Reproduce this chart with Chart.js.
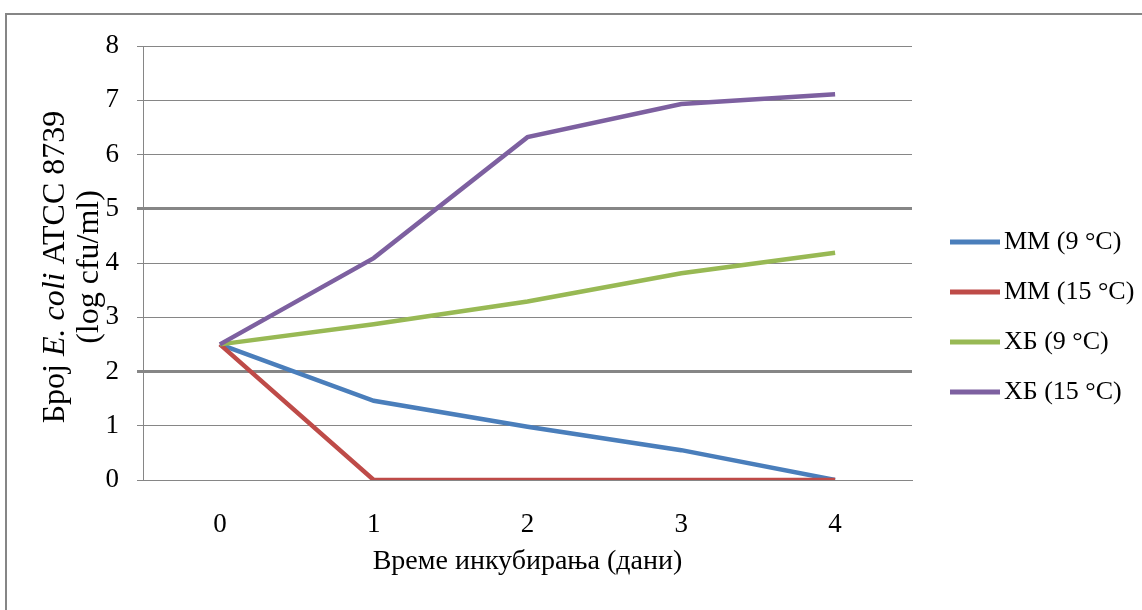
<!DOCTYPE html>
<html>
<head>
<meta charset="utf-8">
<script src="https://cdn.jsdelivr.net/npm/chart.js@4.4.1/dist/chart.umd.min.js"></script>
<style>
  html, body { margin: 0; padding: 0; background: #fff; }
  #wrap { width: 1142px; height: 610px; position: relative; }
</style>
</head>
<body>
<div id="wrap"><canvas id="c" width="1142" height="610"></canvas></div>
<script>
// Days of incubation
const days = ['0', '1', '2', '3', '4'];

// log cfu/ml per series
const mm9  = [2.5, 1.46, 0.98, 0.55, 0.0];
const mm15 = [2.5, 0.0, 0.0, 0.0, 0.0];
const hb9  = [2.5, 2.87, 3.29, 3.81, 4.19];
const hb15 = [2.5, 4.09, 6.32, 6.93, 7.11];

const seriesNames = ['ММ (9 °C)', 'ММ (15 °C)', 'ХБ (9 °C)', 'ХБ (15 °C)'];
const seriesColors = ['#4A7EBB', '#BE4B48', '#98B954', '#7D60A0'];

const yTitleParts = [
  { text: 'Број ', italic: false },
  { text: 'E. coli', italic: true },
  { text: ' ATCC 8739', italic: false }
];
const yTitle2 = '(log cfu/ml)';
const xTitle = 'Време инкубирања (дани)';

const SERIF = '"Liberation Serif", "Times New Roman", serif';
const GRID = '#868686';

const frameAndLabels = {
  id: 'frameAndLabels',
  beforeDraw(chart) {
    const ctx = chart.ctx;
    ctx.save();
    ctx.fillStyle = '#fff';
    ctx.fillRect(0, 0, chart.width, chart.height);
    ctx.strokeStyle = GRID;
    ctx.lineWidth = 2;
    ctx.beginPath();
    ctx.moveTo(6, chart.height);
    ctx.lineTo(6, 14);
    ctx.lineTo(chart.width, 14);
    ctx.stroke();
    ctx.restore();
  },
  afterDraw(chart) {
    const ctx = chart.ctx;
    const area = chart.chartArea;
    ctx.save();
    ctx.fillStyle = '#000';
    ctx.textBaseline = 'middle';

    // x-axis title
    ctx.font = '28px ' + SERIF;
    ctx.textAlign = 'center';
    ctx.fillText(xTitle, (area.left + area.right) / 2, 562);

    // y-axis title, two rotated lines
    const cy = 267;
    ctx.save();
    ctx.translate(56, cy);
    ctx.rotate(-Math.PI / 2);
    ctx.textAlign = 'left';
    let total = 0;
    const widths = yTitleParts.map(p => {
      ctx.font = (p.italic ? 'italic ' : '') + '32px ' + SERIF;
      const w = ctx.measureText(p.text).width;
      total += w;
      return w;
    });
    let x = -total / 2;
    yTitleParts.forEach((p, i) => {
      ctx.font = (p.italic ? 'italic ' : '') + '32px ' + SERIF;
      ctx.fillText(p.text, x, 0);
      x += widths[i];
    });
    ctx.restore();

    ctx.save();
    ctx.translate(90, cy);
    ctx.rotate(-Math.PI / 2);
    ctx.textAlign = 'center';
    ctx.font = '32px ' + SERIF;
    ctx.fillText(yTitle2, 0, 0);
    ctx.restore();

    // legend
    const rowY = [242, 292, 342, 392];
    chart.data.datasets.forEach((ds, i) => {
      const y = rowY[i];
      ctx.strokeStyle = ds.borderColor;
      ctx.lineWidth = 5;
      ctx.beginPath();
      ctx.moveTo(950, y);
      ctx.lineTo(1000, y);
      ctx.stroke();
      ctx.fillStyle = '#000';
      ctx.font = '26px ' + SERIF;
      ctx.textAlign = 'left';
      ctx.fillText(ds.label, 1004, y);
    });
    ctx.restore();
  }
};

const seriesData = [mm9, mm15, hb9, hb15];

new Chart(document.getElementById('c'), {
  type: 'line',
  data: {
    labels: days,
    datasets: seriesData.map((d, i) => ({
      label: seriesNames[i],
      data: d,
      borderColor: seriesColors[i],
      backgroundColor: seriesColors[i],
      borderWidth: 4.5,
      pointRadius: 0,
      tension: 0,
      order: 3 - i
    }))
  },
  options: {
    responsive: false,
    animation: false,
    events: [],
    layout: { padding: { left: 0, right: 230, top: 46, bottom: 0 } },
    plugins: {
      legend: { display: false },
      tooltip: { enabled: false }
    },
    scales: {
      x: {
        offset: true,
        grid: { display: false },
        border: { display: true, color: GRID, width: 1 },
        ticks: {
          color: '#000',
          font: { family: SERIF, size: 27 },
          padding: 21,
          maxRotation: 0
        },
        afterFit(s) { s.height = 130; }
      },
      y: {
        min: 0,
        max: 8,
        ticks: {
          stepSize: 1,
          color: '#000',
          font: { family: SERIF, size: 27 },
          padding: 18
        },
        grid: {
          color: GRID,
          tickLength: 6,
          lineWidth: c => (c.tick && (c.tick.value === 5 || c.tick.value === 2)) ? 3 : 1
        },
        border: { display: true, color: GRID, width: 1 },
        afterFit(s) { s.width = 143; }
      }
    }
  },
  plugins: [frameAndLabels]
});
</script>
</body>
</html>
